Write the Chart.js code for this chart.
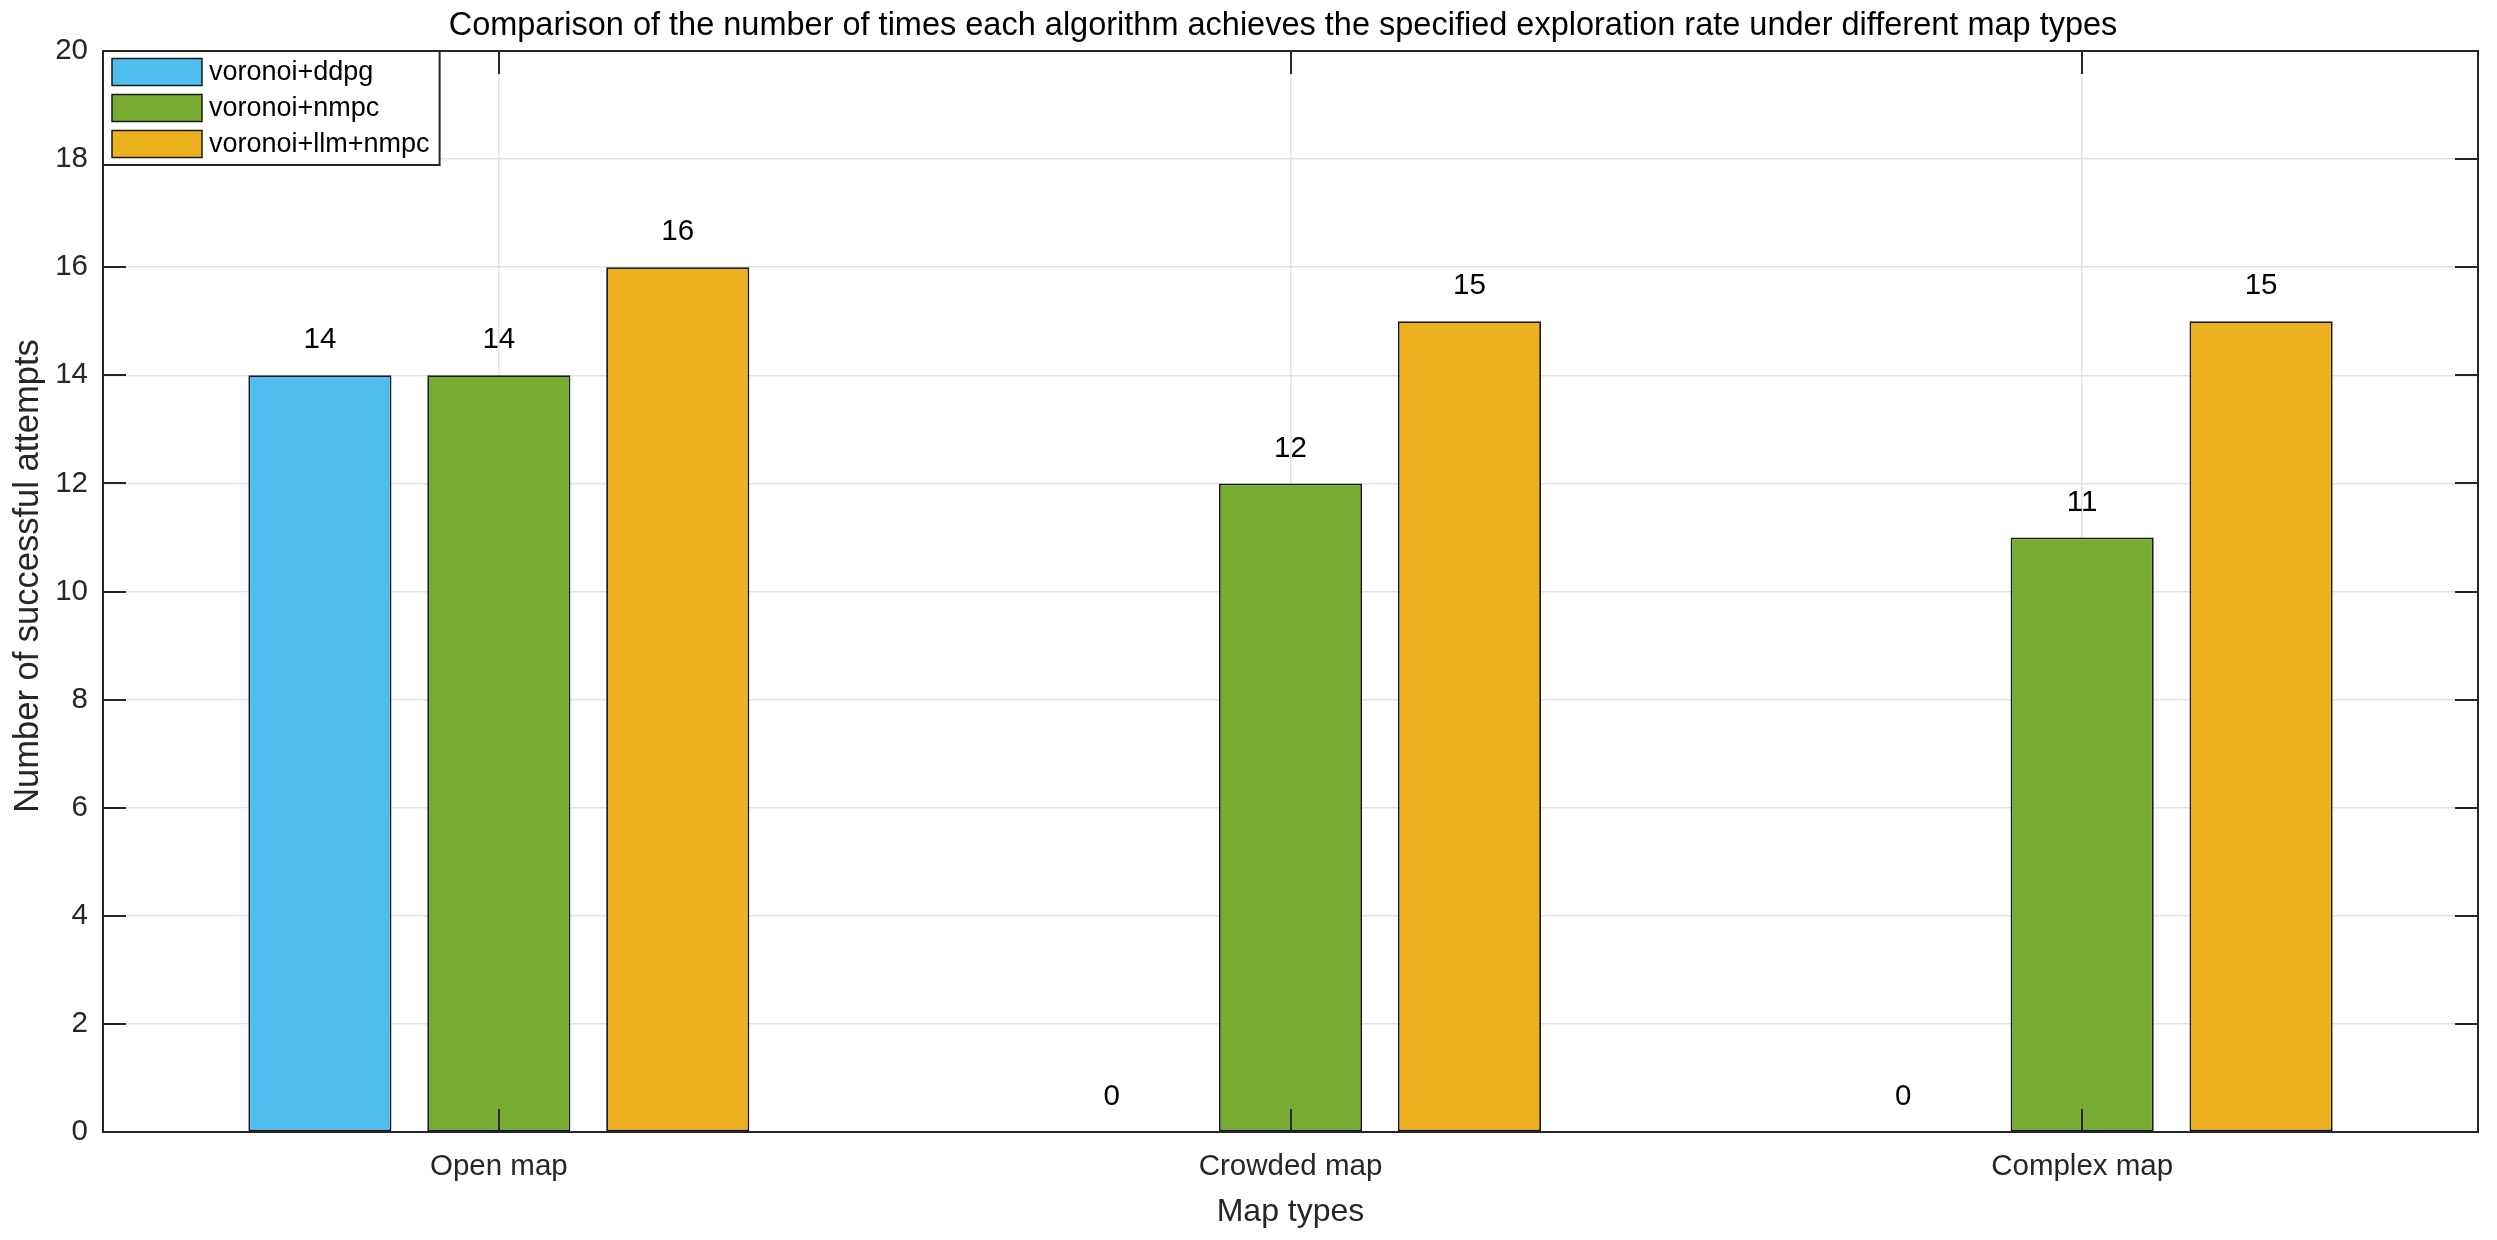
<!DOCTYPE html>
<html>
<head>
<meta charset="utf-8">
<script src="https://cdn.jsdelivr.net/npm/chart.js@4.4.1/dist/chart.umd.min.js"></script>
<style>
  html, body { margin: 0; padding: 0; background: #fff; }
</style>
</head>
<body>
<canvas id="mapChart" width="2497" height="1240"></canvas>
<script>
// Data
const mapTypes = ['Open map', 'Crowded map', 'Complex map'];
const seriesNames = ['voronoi+ddpg', 'voronoi+nmpc', 'voronoi+llm+nmpc'];
const ddpgCounts = [14, 0, 0];
const nmpcCounts = [14, 12, 11];
const llmNmpcCounts = [16, 15, 15];
const yTicks = [0, 2, 4, 6, 8, 10, 12, 14, 16, 18, 20];

const colors = ['#4DBEEE', '#77AC30', '#EDB120'];
const FONT = '"Liberation Sans", Arial, Helvetica, sans-serif';
const AXIS_COLOR = '#262626';
const TICK_LEN = 23;

// frame, inward ticks, value labels, legend and titles (matlab look)
const matlabLook = {
    id: 'matlabLook',
    afterDatasetsDraw(chart) {
        const { ctx, chartArea: a, scales: { x, y } } = chart;
        ctx.save();
        ctx.strokeStyle = AXIS_COLOR;
        ctx.lineWidth = 2;
        ctx.beginPath();
        yTicks.forEach(v => {
            const py = Math.round(y.getPixelForValue(v));
            ctx.moveTo(a.left, py); ctx.lineTo(a.left + TICK_LEN, py);
            ctx.moveTo(a.right, py); ctx.lineTo(a.right - TICK_LEN, py);
        });
        mapTypes.forEach((c, i) => {
            const px = Math.round(x.getPixelForValue(i));
            ctx.moveTo(px, a.bottom); ctx.lineTo(px, a.bottom - TICK_LEN);
            ctx.moveTo(px, a.top); ctx.lineTo(px, a.top + TICK_LEN);
        });
        ctx.stroke();
        ctx.strokeRect(a.left, a.top, a.right - a.left, a.bottom - a.top);

        // value labels above bars
        ctx.fillStyle = '#000';
        ctx.font = '29.5px ' + FONT;
        ctx.textAlign = 'center';
        ctx.textBaseline = 'middle';
        chart.data.datasets.forEach((ds, di) => {
            chart.getDatasetMeta(di).data.forEach((bar, i) => {
                ctx.fillText(String(ds.data[i]), bar.x, bar.y - 35);
            });
        });
        ctx.restore();
    },
    afterDraw(chart) {
        const { ctx, chartArea: a } = chart;
        ctx.save();
        // title
        ctx.fillStyle = '#000';
        ctx.font = '32.5px ' + FONT;
        ctx.textAlign = 'center';
        ctx.textBaseline = 'middle';
        ctx.fillText('Comparison of the number of times each algorithm achieves the specified exploration rate under different map types', 1283, 26);

        // axis titles
        ctx.fillStyle = AXIS_COLOR;
        ctx.font = '32px ' + FONT;
        ctx.fillText('Map types', (a.left + a.right) / 2, 1212);
        ctx.save();
        ctx.font = '34.5px ' + FONT;
        ctx.translate(28, 576);
        ctx.rotate(-Math.PI / 2);
        ctx.fillText('Number of successful attempts', 0, 0);
        ctx.restore();

        // legend box in the top-left corner
        ctx.font = '27px ' + FONT;
        const textW = Math.max(...seriesNames.map(s => ctx.measureText(s).width));
        const lx = a.left, ly = a.top;
        const lw = 106 + textW + 10, lh = 114;
        ctx.fillStyle = '#fff';
        ctx.fillRect(lx, ly, lw, lh);
        ctx.strokeStyle = AXIS_COLOR;
        ctx.lineWidth = 2;
        ctx.strokeRect(lx, ly, lw, lh);
        ctx.textAlign = 'left';
        seriesNames.forEach((name, i) => {
            const cy = ly + 21 + i * 36;
            ctx.fillStyle = colors[i];
            ctx.fillRect(lx + 9, cy - 13.5, 90, 27);
            ctx.strokeStyle = '#1a1a1a';
            ctx.lineWidth = 1.5;
            ctx.strokeRect(lx + 9, cy - 13.5, 90, 27);
            ctx.fillStyle = '#000';
            ctx.fillText(name, lx + 106, cy + 1);
        });
        ctx.restore();
    }
};

const ctx = document.getElementById('mapChart').getContext('2d');
const mapChart = new Chart(ctx, {
    type: 'bar',
    data: {
        labels: mapTypes,
        datasets: [
            { label: seriesNames[0], data: ddpgCounts, backgroundColor: colors[0] },
            { label: seriesNames[1], data: nmpcCounts, backgroundColor: colors[1] },
            { label: seriesNames[2], data: llmNmpcCounts, backgroundColor: colors[2] }
        ]
    },
    options: {
        responsive: false,
        animation: false,
        devicePixelRatio: 1,
        layout: { padding: { top: 51, right: 19, bottom: 0, left: 0 } },
        datasets: {
            bar: {
                categoryPercentage: 0.678,
                barPercentage: 0.8,
                borderColor: '#1a1a1a',
                borderWidth: 1.8,
                borderSkipped: false
            }
        },
        plugins: {
            legend: { display: false },
            title: { display: false },
            tooltip: { enabled: false }
        },
        scales: {
            x: {
                offset: true,
                grid: { offset: false, color: '#e3e3e3', lineWidth: 1.5, drawTicks: false },
                border: { display: false },
                ticks: { color: AXIS_COLOR, font: { size: 29.5, family: FONT }, padding: 17 },
                afterFit: s => { s.height = 108; }
            },
            y: {
                min: 0,
                max: 20,
                grid: { color: '#e3e3e3', lineWidth: 1.5, drawTicks: false },
                border: { display: false },
                ticks: { color: AXIS_COLOR, font: { size: 29.5, family: FONT }, padding: 15 },
                afterBuildTicks: s => { s.ticks = yTicks.map(v => ({ value: v })); },
                afterFit: s => { s.width = 103; }
            }
        }
    },
    plugins: [matlabLook]
});
</script>
</body>
</html>
